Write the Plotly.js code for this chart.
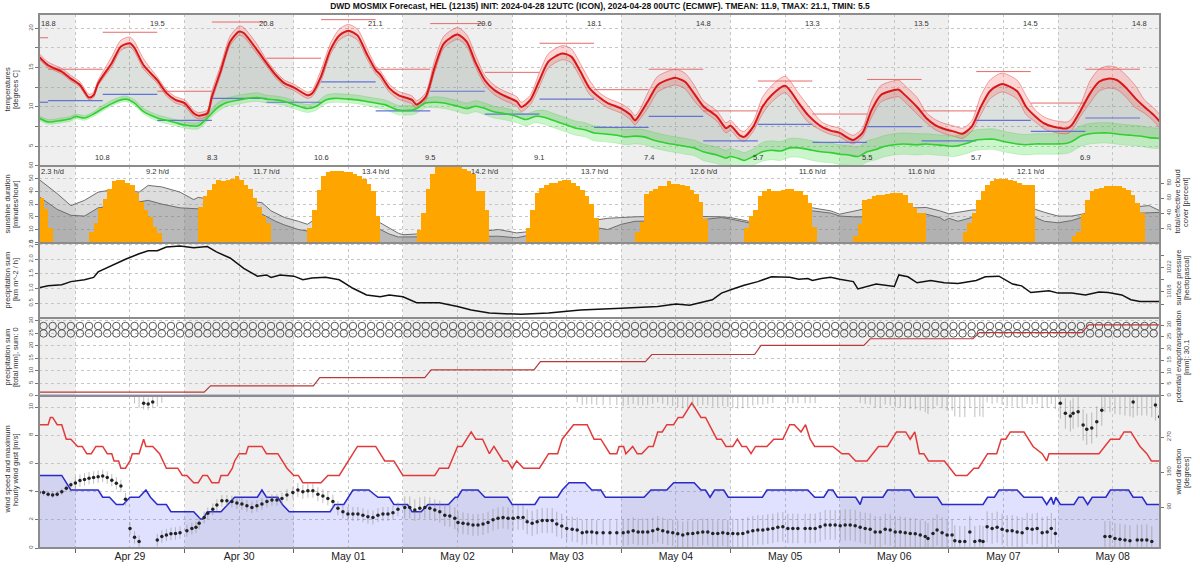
<!DOCTYPE html>
<html>
<head>
<meta charset="utf-8">
<script src="https://cdn.plot.ly/plotly-3.0.1.min.js"></script>
<style>
html,body{margin:0;padding:0;background:#fff;}
#chart{width:1200px;height:571px;}
</style>
</head>
<body>
<div id="chart"></div>
<script>
// ================= DATA (time = hours since 2024-04-28 00:00 UTC) =================
const timeRange = [16, 262.4];
const dayLabels = ['Apr 29','Apr 30','May 01','May 02','May 03','May 04','May 05','May 06','May 07','May 08'];
const dayNoonHours = [36,60,84,108,132,156,180,204,228,252];
const shadedDayStarts = [0,48,96,144,192,240];

// --- temperature (ensemble mean) ---
const tempHours = [16,18,21,23,25,27,28,29,32,34,36,37,39,42,44,46,48,50,51,53,54,56,58,60,61,64,66,68,70,72,75,76,78,80,82,84,86,88,90,91,93,95,98,99,101,103,105,108,110,112,114,116,118,121,122,124,126,128,131,133,135,137,139,141,144,146,147,148,150,152,155,156,158,160,162,165,167,168,170,171,173,175,177,180,183,185,188,190,192,194,195,197,199,201,203,205,206,209,211,213,215,217,219,221,223,225,227,228,231,233,235,237,239,242,243,245,247,249,251,253,255,257,259,261,262.4];
const tempMean = [16.4,15.3,14.5,13.6,12.8,11.2,11.5,13.0,15.6,17.7,18.1,17.5,15.3,13.4,11.8,10.9,10.5,9.2,8.9,9.2,11.3,14.7,18.3,19.6,19.4,17.2,15.6,14.1,13.0,12.5,11.5,11.7,13.9,17.2,19.1,19.7,19.1,16.8,14.7,14.1,12.4,11.5,10.9,10.3,11.3,15.1,18.1,19.2,18.3,15.6,13.4,12.2,11.5,10.7,10.0,10.9,13.4,15.8,16.8,16.4,14.5,12.4,11.3,10.5,9.8,9.0,8.3,9.0,10.9,12.8,13.6,13.7,13.2,11.7,10.1,8.8,7.3,7.6,6.4,6.2,7.5,10.0,11.5,12.7,10.5,9.0,7.5,7.0,6.7,6.0,5.8,6.7,9.6,11.5,12.0,12.2,11.7,10.0,8.6,7.7,7.2,6.9,6.6,7.5,10.0,12.0,12.8,12.9,12.0,10.0,8.8,7.9,7.5,7.3,7.7,9.6,11.7,13.2,13.6,13.4,12.4,11.1,10.0,9.0,8.1];
// --- dew point ---
const dewHours = [16,18,21,23,24,26,28,30,33,35,37,39,42,44,46,48,51,53,55,57,60,62,64,66,68,70,72,75,77,79,81,84,86,88,90,92,95,98,99,101,103,105,108,110,112,114,116,118,121,123,125,127,129,132,134,136,138,140,143,145,147,149,151,154,156,158,160,162,165,167,168,170,171,173,175,177,179,181,183,186,188,190,192,194,196,198,200,202,204,206,209,211,213,215,217,220,222,224,226,228,231,233,235,237,239,242,243,245,247,249,251,254,256,258,260,262.4];
const dewMean = [8.6,8.1,8.3,8.5,8.8,8.6,9.1,9.8,10.7,11.0,10.5,9.4,8.6,8.3,8.0,7.7,7.6,8.6,9.8,10.5,10.9,11.1,11.2,11.0,10.9,10.7,10.3,9.8,10.1,10.9,11.1,11.0,10.9,10.7,10.5,10.3,9.6,9.6,9.8,10.5,10.6,10.5,10.1,9.8,10.1,9.8,9.4,9.2,8.8,8.4,8.8,8.7,8.3,7.7,7.3,7.1,6.7,6.6,6.4,6.2,6.3,6.2,5.8,5.4,5.2,5.0,4.8,4.3,3.9,3.5,3.7,3.4,3.2,3.7,4.3,4.5,4.4,4.8,4.8,4.5,4.3,4.2,4.0,3.9,3.7,4.3,4.6,5.0,5.2,5.3,5.2,5.3,5.2,5.1,5.0,5.4,5.8,5.9,5.9,5.6,5.3,5.2,5.3,5.3,5.3,5.4,5.6,6.3,6.6,6.7,6.7,6.5,6.4,6.3,6.1,6.0];
// spread of the ensemble per 12-h period (06-18, 18-06 UTC), periods 1..22
const tempSpreadUp   = [0.4,0.4,0.8,0.4,0.7,0.4,0.8,0.5,0.9,0.6,1.0,0.6,1.1,0.7,1.2,0.6,1.2,0.7,1.4,0.8,1.6,0.9];
const tempSpreadDown = [0.3,0.3,0.5,0.4,0.5,0.4,0.6,0.5,0.6,0.6,0.8,0.6,0.9,0.6,0.9,0.5,0.9,0.6,1.0,0.7,1.2,0.8];
const dewSpreadUp    = [0.3,0.3,0.4,0.4,0.6,0.5,0.6,0.6,0.7,0.7,0.9,0.9,1.0,1.0,1.2,1.2,1.4,1.3,1.3,1.3,1.3,1.3];
const dewSpreadDown  = [0.3,0.3,0.3,0.4,0.5,0.5,0.5,0.6,0.7,0.8,0.9,1.0,1.0,1.1,1.2,1.3,1.3,1.3,1.3,1.3,1.3,1.3];
// 12-hour max / min temperature, periods 1..21
const tmax12h = [18.8,14.8,19.5,12.0,20.8,16.2,21.1,14.8,20.6,14.4,18.1,12.2,14.8,9.5,13.3,9.1,13.5,9.5,14.5,10.5,14.8];
const tmin12h = [10.6,10.8,11.6,8.3,11.1,10.6,13.2,9.5,12.0,9.1,11.0,7.4,8.8,5.7,7.8,5.5,7.5,5.7,8.3,6.9,8.6];

// --- sunshine duration (minutes per hour), hourly bars per day ---
const sunStartHours = [16,27,51,75,99,123,147,171,195,219,243];
const sunApr28 = [35,26,11];
const sunApr29 = [8,15,27,34,42,48,49,49,47,45,39,32,25,20,12,7];
const sunApr30 = [28,36,41,46,49,48,49,50,52,49,45,42,35,28,21,15];
const sunMay01 = [11,25,41,52,55,56,56,56,55,55,54,52,50,46,40,21];
const sunMay02 = [10,23,42,54,59,60,60,60,60,59,58,56,54,40,40,25];
const sunMay03 = [11,25,39,43,45,47,47,48,49,49,47,44,41,36,30,19];
const sunMay04 = [8,16,38,40,42,44,44,48,46,46,45,44,41,38,32,18];
const sunMay05 = [11,21,25,36,40,42,40,40,41,42,42,40,40,37,31,12];
const sunMay06 = [5,14,33,34,36,37,37,38,39,39,39,37,31,27,23,23];
const sunMay07 = [8,15,23,33,40,45,48,50,50,50,49,48,47,45,45,45];
const sunMay08 = [5,8,22,33,40,42,43,44,44,44,44,43,41,37,31,23];
const sunDailyHours = [2.3,9.2,11.7,13.4,14.2,13.7,12.6,11.6,11.6,12.1];
const sunLabelHours = [19,42,66,90,114,138,162,186,210,234];

// --- cloud cover (percent) ---
const cloudHours = [16,20,23,26,29,32,34,38,40,43,47,50,51,54,59,65,67,68,70,73,75,76,83,91,93,95,96,99,108,117,121,125,132,139,141,144,147,156,163,166,168,172,174,181,186,190,192,195,197,204,211,214,215,216,218,221,227,235,237,240,243,245,251,260,262.4];
const cloudTotal = [85,66,50,57,68,71,70,68,77,75,68,58,61,58,57,54,43,40,34,29,25,29,28,27,20,13,11,12,12,18,13.5,16,25,32,33,34,35,36,36,35,34,29,38.5,42,47,43,38.5,43,45,46,47.5,43,41,39,41,44,45,45,41,36,36,38.5,45,50,43];
const cloudEffective = [62,45,37,36,47,50,52,55,57,52,47,46,46,45,43,38.5,32,29,24,18,16,16,17,18,12,8,8,9,9,9,7,12,16,20,18,25,29,30,32,34,32,27,30,38,43,40,36,35,35,37,38.5,34,30,33,29,34,34,34,29,27,30,34,38,41,41];

// --- surface pressure (hPa) ---
const pressureHours = [16,18,21,22,23,26,28,29,32,35,38,40,42,44,47,50,53,55,58,61,64,66,67,69,72,74,76,79,82,85,88,91,93,96,99,104,108,111,115,122,128,135,144,152,156,159,164,166,169,171,174,177,181,183,185,186,188,190,192,195,196,198,200,204,205,207,209,212,215,218,220,222,224,227,230,232,234,238,240,243,246,249,251,254,256,258,262.4];
const pressure = [1018.7,1019.0,1019.2,1019.5,1019.7,1020.0,1020.4,1021.3,1022.4,1023.4,1024.3,1024.8,1024.8,1025.4,1025.6,1025.3,1025.5,1024.6,1023.6,1021.9,1020.6,1020.8,1020.4,1020.8,1020.6,1020.0,1020.3,1020.4,1020.0,1018.6,1017.5,1017.2,1017.5,1017.2,1016.2,1016.2,1015.6,1015.0,1014.5,1014.3,1014.5,1015.0,1015.3,1015.6,1016.0,1015.8,1016.7,1017.8,1018.6,1019.1,1019.7,1020.5,1020.4,1020.1,1020.2,1019.9,1020.2,1020.4,1020.1,1019.7,1018.5,1018.9,1019.3,1018.9,1020.8,1020.5,1019.5,1019.9,1019.5,1019.4,1019.7,1019.9,1020.5,1020.6,1019.3,1019.0,1017.9,1018.2,1017.8,1017.8,1017.5,1018.0,1017.9,1017.5,1016.7,1016.4,1016.4];
const precipRateHours = [16,262.4];
const precipRate = [0,0];

// --- precipitation sum and potential evapotranspiration (mm) ---
const precipSumHours = [16,262.4];
const precipSum = [0,0];
const petStepHours = [53,77,101.5,125.5,150,174,198,222,246];
const petLevels = [1.5,4.2,7.7,11.0,14.5,17.5,21.4,24.2,26.8,30.1];
const petTotal = 30.1;
const symbolStepHours = 2;          // weather-symbol rows every 2 h
const symbolRowLevels = [28,25];    // ICON / ECMWF rows

// --- wind (knots as reported, axis in m/s) ---
const gustHours = [16,18,18.5,19,20,21,22,23,24.5,25.5,26.5,27.5,28.5,30,31,32,32.5,33.5,34,35,36,36.5,38,39,39.5,41,42.5,44,46.5,47.5,48.5,50,51,52,53,54,55.5,56,57.5,58.5,59,60,61.5,62,65,66,68.5,69.5,70.5,72,73,74,78,79.5,82,84,85,86,90,92,94,96,103,104,106,108,109,111,112,113.5,115,116,118,119,120,121,122.5,126,128,130,131,133.5,136.5,138,139.5,141.5,143,143.5,144.5,145,146.5,147.5,148.5,150,151,152,153,154,155.5,156.5,157.5,159.5,161.5,162.5,165,166,167,168.5,169.5,170.5,171.5,172.5,173.5,176,177.5,179.5,181,182,183.5,184.5,185.5,186.5,190.5,192.5,194,195.5,198,200.5,202.5,204.5,206.5,207.5,208.5,209.5,210.5,211.5,215,217.5,220,221.5,222.5,224.5,226.5,227.5,228.5,229.5,232.5,234.5,236.5,237.5,238,249,251.5,253.5,254.5,256,258,259.5,260.5,262.4];
const gustKt = [17,17,18,18,17,17,15,15,14,14,13,13,14,14,13,13,12,12,11,11,12,13,13,15,14,14,13,11,11,10,10,9,9,10,10,9,9,10,10,11,12,13,13,14,14,13,13,12,11,10,10,9,9,10,10,12,13,14,14,12,12,10,10,11,11,14,14,16,15,15,13,14,12,12,11,12,11,11,13,13,15,17,17,15,15,13,13,14,14,13,14,13,13,14,14,16,16,17,17,18,18,20,18,18,15,15,14,14,15,14,14,13,14,14,15,15,17,17,16,17,15,14,14,13,13,12,12,14,14,16,16,15,16,13,13,12,12,10,10,11,11,13,13,15,15,16,16,14,13,12,13,13,15,15,16,16,14,13,12,12];
const speedHours = [16,21,23,29,30,31.5,33,34.5,36,38,39.5,40.5,42,44,45,50,51.5,52,53,56,57.5,59,64,65,66,68.5,69.5,71,80,81,83,85,88.5,90.5,93,94,97,98,100,101.5,106,107.5,108,109,112.5,114,119,120,125,126,130,131,132.5,136,137.5,139.5,140.5,149,150.5,154,155.5,160,161.5,162.5,163.5,164.5,166.5,167.5,175,176,185,186.5,188.5,189.5,190.5,191.5,195.5,196.5,197,201.5,202.5,207.5,208.5,213.5,214.5,223.5,224.5,226,227,231,232.5,236.5,237.5,238.5,239,239.5,240.5,243.5,244.5,245.5,246.5,247.5,250.5,251.5,255.5,256.5,258.5,259.5,262.4];
const speedKt = [10,10,8,8,7,7,6,6,7,7,8,7,6,6,5,5,4,4,5,5,6,7,7,8,7,7,6,5,5,6,6,8,8,7,7,6,6,5,5,6,6,7,7,8,8,7,7,6,6,7,7,8,9,9,8,8,7,7,8,8,9,9,8,8,7,8,8,7,7,8,8,7,7,8,8,7,7,6,7,7,8,8,7,7,6,6,7,7,8,8,7,7,6,7,6,7,6,6,7,7,6,7,7,8,8,7,7,6,6];
const dirHours = [16,17,18,19,20,21,22,23,24,25,26,27,28,29,30,31,32,33,34,35,36,37,38,39,40,41,42,43,44,45,46,47,48.5,49.6,50.5,51.2,52.3,53.1,54.2,55.1,56.2,57.3,58.4,59.5,60.6,61.7,62.8,63.9,65,66.1,67.2,68.3,69.4,70.5,71.8,72.9,74,75.1,76.2,77.3,78.4,79.5,80.6,81.7,82.8,83.9,85,86.1,87.2,88.3,89.4,90.5,91.6,92.7,93.8,94.9,96.4,97.5,98.6,99.7,100.8,101.9,103,104.1,105.2,106.3,107.4,108.1,109.2,110.3,111.4,112.5,113.6,114.7,115.8,116.9,118,119.1,120.2,121.3,122.4,123.3,124.4,125.5,126.6,127.7,128.8,129.8,130.9,132,133.2,134.3,135.4,136.4,137.5,138.6,140,141.5,143,144.4,145.5,146.6,147.7,148.7,149.8,150.9,152,153.1,154.2,155.3,156.4,157.5,158.6,159.7,160.8,161.9,163,164.1,165.2,166.3,167.4,168.5,169.6,170.7,171.8,172.9,174,175.1,176.2,177.3,178.4,179.5,180.6,181.7,182.8,184.4,185.5,186.6,187.7,188.8,189.9,191,192.1,193.2,194.3,195.4,196.5,197.6,198.7,199.8,200.9,202,203.1,204.2,205.3,206.4,207.5,208.6,209.7,210.8,211.4,212.5,213.4,214.5,215.6,216.7,217.3,218.4,219.5,220.6,221.7,222.8,223.5,224.4,225.5,226.6,227.7,228.8,229.9,231,232.1,233.2,234.3,235.4,236.5,237.6,238.5,239.4,240.5,241.6,242.7,243.3,244.4,245.5,246.3,247.4,248.5,249.6,250.3,251.4,252.5,253.6,254.7,255.8,256.5,257.4,258.4,259.5,260.6,261.4,262.3];
const dirDeg = [127,127,123,121,123,129,138,147,152,158,161,164,166,168,170,166,159,151,144,110,35,12,1,357,355,360,5,14,18,21,22,24,29,35,38,48,63,74,84,95,106,106,104,100,98,93,89,93,98,104,108,108,112,121,127,134,129,132,132,123,118,112,104,87,78,72,72,72,69,65,63,69,72,72,75,84,89,89,82,87,89,87,82,78,69,67,61,50,48,46,44,44,46,50,57,61,63,61,61,63,63,52,48,52,55,55,55,46,41,35,33,31,24,26,26,24,24,24,24,24,26,29,26,26,26,29,33,29,26,24,21,18,21,22,24,26,26,22,22,24,22,22,21,22,26,29,31,31,33,35,38,39,35,35,35,35,35,35,39,44,44,44,42,44,44,42,38,35,33,26,26,33,31,26,26,24,22,21,18,14,9,22,31,24,18,18,3,1,1,26,1,3,1,39,35,38,33,29,29,26,24,35,33,35,24,26,35,22,357,331,324,331,335,301,290,293,309,339,14,14,9,7,5,3,360,5,5,5,1,352,322];
const dirSpreadByDay = [8,16,15,18,28,32,34,38,40,40,40];

// ================= BUILD =================
const KT2MS = 0.514444;
const periodIdx = h => Math.min(21, Math.max(0, Math.floor((h + 6) / 12) - 1));
const dom = {temp:[0.7154,1], sun:[0.5712,0.7154], pres:[0.4307,0.5712], prec:[0.2846,0.4307], wind:[0,0.2846]};
const FONT = 'Liberation Sans, Arial, sans-serif';

const tUp = tempHours.map((h,i)=>tempMean[i]+tempSpreadUp[periodIdx(h)]);
const tDn = tempHours.map((h,i)=>tempMean[i]-tempSpreadDown[periodIdx(h)]);
const dUp = dewHours.map((h,i)=>dewMean[i]+dewSpreadUp[periodIdx(h)]);
const dDn = dewHours.map((h,i)=>dewMean[i]-dewSpreadDown[periodIdx(h)]);

function segments(vals){
  const x=[], y=[];
  vals.forEach((v,i)=>{const k=i+1; x.push(Math.max(12*k-6, timeRange[0]), 12*k+6, null); y.push(v, v, null);});
  return {x, y};
}
const segMax = segments(tmax12h), segMin = segments(tmin12h);

const sunDays = [sunApr28,sunApr29,sunApr30,sunMay01,sunMay02,sunMay03,sunMay04,sunMay05,sunMay06,sunMay07,sunMay08];
const sunX=[], sunY=[];
sunDays.forEach((arr,d)=>arr.forEach((v,i)=>{sunX.push(sunStartHours[d]+i+0.5); sunY.push(v);}));

const petX=[timeRange[0]], petY=[petLevels[0]];
petStepHours.forEach((h,i)=>{petX.push(h-0.7, h+0.7); petY.push(petLevels[i], petLevels[i+1]);});
petX.push(timeRange[1]); petY.push(petLevels[petLevels.length-1]);

const symX=[];
for(let h=timeRange[0]+1; h<=timeRange[1]-1; h+=symbolStepHours) symX.push(h);

const dirErr = dirHours.map(h=>dirSpreadByDay[Math.floor(h/24)]);
// spread that wraps below 0 deg re-appears at the top of the 0..360 scale
const wrapX=[], wrapY=[], wrapE=[];
dirHours.forEach((h,i)=>{ if(dirDeg[i]-dirErr[i] < 0){ wrapX.push(h); wrapY.push(dirDeg[i]+360); wrapE.push(dirErr[i]); } });

const sp = {mode:'lines', hoverinfo:'skip', showlegend:false};
const spline = {shape:'spline', smoothing:0.7};
const traces = [
  // temperature panel
  {...sp, x:dewHours, y:dewMean, xaxis:'x', yaxis:'y', line:{width:0, ...spline}},
  {...sp, x:tempHours, y:tempMean, xaxis:'x', yaxis:'y', fill:'tonexty', fillcolor:'rgba(120,135,120,0.25)', line:{width:0, ...spline}},
  {...sp, x:dewHours, y:dDn, xaxis:'x', yaxis:'y', line:{width:0.6, color:'rgba(60,210,60,0.35)', ...spline}},
  {...sp, x:dewHours, y:dUp, xaxis:'x', yaxis:'y', fill:'tonexty', fillcolor:'rgba(70,220,70,0.28)', line:{width:0.6, color:'rgba(60,200,60,0.45)', ...spline}},
  {...sp, x:tempHours, y:tDn, xaxis:'x', yaxis:'y', line:{width:0.8, color:'rgba(225,70,70,0.55)', ...spline}},
  {...sp, x:tempHours, y:tUp, xaxis:'x', yaxis:'y', fill:'tonexty', fillcolor:'rgba(255,90,90,0.25)', line:{width:0.8, color:'rgba(225,70,70,0.6)', ...spline}},
  {...sp, x:segMax.x, y:segMax.y, xaxis:'x', yaxis:'y', line:{width:1, color:'#e86a6a'}},
  {...sp, x:segMin.x, y:segMin.y, xaxis:'x', yaxis:'y', line:{width:1.2, color:'#6474d4'}},
  {...sp, x:dewHours, y:dewMean, xaxis:'x', yaxis:'y', line:{width:1.6, color:'#2fd02f', ...spline}},
  {...sp, x:tempHours, y:tempMean, xaxis:'x', yaxis:'y', line:{width:2, color:'#d81818', ...spline}},
  // sunshine / cloud panel
  {...sp, x:cloudHours, y:cloudTotal, xaxis:'x', yaxis:'y2', fill:'tozeroy', fillcolor:'rgba(150,150,150,0.32)', line:{width:1, color:'#6e6e6e'}},
  {...sp, x:cloudHours, y:cloudEffective, xaxis:'x', yaxis:'y2', fill:'tozeroy', fillcolor:'rgba(110,110,110,0.32)', line:{width:1, color:'#6e6e6e'}},
  {type:'bar', x:sunX, y:sunY, width:1, xaxis:'x', yaxis:'y6', marker:{color:'#ffa500', line:{width:0}}, hoverinfo:'skip', showlegend:false},
  // pressure panel
  {...sp, x:precipRateHours, y:precipRate, xaxis:'x', yaxis:'y3', line:{width:0, color:'rgba(0,0,0,0)'}},
  {...sp, x:pressureHours, y:pressure, xaxis:'x', yaxis:'y7', line:{width:1.5, color:'#111'}},
  // precipitation panel
  {...sp, x:precipSumHours, y:precipSum, xaxis:'x', yaxis:'y4', line:{width:2.2, color:'#3b3ba6'}},
  {...sp, mode:'markers', x:symX, y:symX.map(()=>symbolRowLevels[0]), xaxis:'x', yaxis:'y4', marker:{symbol:'circle-open', size:7.5, color:'#444', line:{width:0.9}}},
  {...sp, mode:'markers', x:symX, y:symX.map(()=>symbolRowLevels[1]), xaxis:'x', yaxis:'y4', marker:{symbol:'circle-open', size:7.5, color:'#444', line:{width:0.9}}},
  {...sp, x:petX, y:petY, xaxis:'x', yaxis:'y8', line:{width:1.2, color:'#b83a3a'}},
  // wind panel
  {...sp, x:speedHours, y:speedKt.map(v=>v*KT2MS), xaxis:'x', yaxis:'y5', fill:'tozeroy', fillcolor:'rgba(70,70,255,0.17)', line:{width:1.5, color:'#2a2ac8'}},
  {...sp, x:gustHours, y:gustKt.map(v=>v*KT2MS), xaxis:'x', yaxis:'y5', line:{width:1.5, color:'#e23a3a'}},
  {...sp, mode:'markers', x:wrapX, y:wrapY, xaxis:'x', yaxis:'y9', marker:{size:0.1, color:'rgba(0,0,0,0)'},
    error_y:{type:'data', array:wrapE, visible:true, color:'rgba(140,140,140,0.55)', thickness:1, width:0}},
  {...sp, mode:'markers', x:dirHours, y:dirDeg, xaxis:'x', yaxis:'y9', marker:{size:3.5, color:'#222'},
    error_y:{type:'data', array:dirErr, visible:true, color:'rgba(140,140,140,0.55)', thickness:1, width:0}}
];

const yTick = {ticks:'outside', ticklen:3, tickcolor:'#777', tickfont:{size:6, color:'#555', family:FONT}, tickangle:-90, zeroline:false, showline:false, fixedrange:true};
const yGrid = {showgrid:true, gridcolor:'#c6c6c6', griddash:'3px,3px', gridwidth:1};

const layout = {
  width:1200, height:571,
  margin:{l:39, r:40, t:14, b:23},
  paper_bgcolor:'#ffffff', plot_bgcolor:'rgba(0,0,0,0)',
  font:{family:FONT, color:'#333'},
  showlegend:false,
  bargap:0,
  title:{text:'<b>DWD MOSMIX Forecast, HEL (12135) INIT: 2024-04-28 12UTC (ICON), 2024-04-28 00UTC (ECMWF). TMEAN: 11.9, TMAX: 21.1, TMIN: 5.5</b>',
         x:0.5, xanchor:'center', y:0.989, yanchor:'middle', yref:'container', font:{size:8.5, color:'#111', family:FONT}},
  xaxis:{domain:[0,1], anchor:'y5', range:timeRange, tickmode:'array', tickvals:dayNoonHours, ticktext:dayLabels,
         ticks:'', tickfont:{size:10.5, color:'#222', family:FONT}, showgrid:true, gridcolor:'#c6c6c6', griddash:'3px,3px',
         minor:{tick0:0, dtick:24, ticks:'outside', ticklen:4, tickcolor:'#666', showgrid:true, gridcolor:'#c6c6c6', griddash:'3px,3px'},
         zeroline:false, showline:false, fixedrange:true},
  yaxis:{...yTick, ...yGrid, domain:dom.temp, anchor:'x', range:[2.5,21.82], tickmode:'array',
         tickvals:[2.5,5,7.5,10,12.5,15,17.5,20], ticktext:['','5','','10','','15','','20']},
  yaxis2:{...yTick, domain:dom.sun, anchor:'x', side:'right', range:[0,103], tickvals:[20,40,60,80], showgrid:false},
  yaxis6:{...yTick, ...yGrid, overlaying:'y2', anchor:'x', side:'left', range:[-0.55,60], tickvals:[0,10,20,30,40,50,60]},
  yaxis3:{...yTick, ...yGrid, domain:dom.pres, anchor:'x', range:[0,2.55], tickvals:[0.5,1,1.5,2,2.5], ticktext:['0.5','1.0','1.5','2.0','2.5']},
  yaxis7:{...yTick, overlaying:'y3', anchor:'x', side:'right', range:[1013.69,1026.08], tickmode:'array',
          tickvals:[1016,1018,1020,1022,1024], ticktext:['','1018','','1022',''], showgrid:false},
  yaxis4:{...yTick, ...yGrid, domain:dom.prec, anchor:'x', range:[-0.12,31.2], tickvals:[0,5,10,15,20,25,30]},
  yaxis8:{...yTick, overlaying:'y4', anchor:'x', side:'right', range:[-0.13,33.0], tickvals:[0,5,10,15,20,25,30], showgrid:false},
  yaxis5:{...yTick, ...yGrid, domain:dom.wind, anchor:'x', range:[0,10.78], tickvals:[0,2,4,6,8,10]},
  yaxis9:{...yTick, overlaying:'y5', anchor:'x', side:'right', range:[-15.4,375.4], tickvals:[90,180,270], showgrid:false},
  shapes:[], annotations:[]
};

// day shading
shadedDayStarts.forEach(s=>{
  layout.shapes.push({type:'rect', xref:'x', yref:'paper', x0:Math.max(s,timeRange[0]), x1:Math.min(s+24,timeRange[1]), y0:0, y1:1,
    fillcolor:'#efefef', line:{width:0}, layer:'below'});
});
// panel frames
Object.values(dom).forEach(d=>{
  layout.shapes.push({type:'rect', xref:'paper', yref:'paper', x0:0, x1:1, y0:d[0], y1:d[1], line:{color:'#8c8c8c', width:2}, fillcolor:'rgba(0,0,0,0)', layer:'above'});
});

const ann = (x,y,text,opt={}) => layout.annotations.push(Object.assign({x, y, text, xref:'x', yref:'paper', showarrow:false,
  font:{size:7.5, color:'#333', family:FONT}, xanchor:'center', yanchor:'middle'}, opt));
// Tmax / Tmin labels
tmax12h.forEach((v,i)=>{ if(i%2===0) ann(12*(i+1)+6, 0.9831, v.toFixed(1)); });
tmin12h.forEach((v,i)=>{ if(i%2===1) ann(12*(i+1)+6, 0.7322, v.toFixed(1)); });
// sunshine daily sums
sunDailyHours.forEach((v,i)=>ann(sunLabelHours[i], 0.7055, v.toFixed(1)+' h/d'));

// axis titles
const pxX = px => (px-39)/1121;
const pxY = py => (548-py)/534;
const axTitle = (px, py, text) => layout.annotations.push({x:pxX(px), y:pxY(py), xref:'paper', yref:'paper', text, textangle:-90,
  showarrow:false, xanchor:'center', yanchor:'middle', font:{size:7.5, color:'#333', family:FONT}});
axTitle(6.5, 90, 'temperatures'); axTitle(15, 90, '[degrees C]');
axTitle(6.5, 204, 'sunshine duration'); axTitle(15, 204, '[minutes/hour]');
axTitle(6.5, 280, 'precipitation sum'); axTitle(15, 280, '[km m^-2 / h]');
axTitle(6.5, 357, 'precipitation sum'); axTitle(15, 357, '[total mm], sum: 0');
axTitle(6.5, 470, 'wind speed and maximum'); axTitle(15, 470, 'hourly wind gust [m/s]');
axTitle(1177.5, 202, 'total/effective cloud'); axTitle(1186, 202, 'cover [percent]');
axTitle(1177.5, 278, 'surface pressure'); axTitle(1186, 278, '[hectopascal]');
axTitle(1177.5, 357, 'potential evapotranspiration'); axTitle(1186, 357, '[mm]: ' + petTotal.toFixed(1));
axTitle(1177.5, 472, 'wind direction'); axTitle(1186, 472, '[degrees]');

Plotly.newPlot('chart', traces, layout, {staticPlot:true, displayModeBar:false});
</script>
</body>
</html>
